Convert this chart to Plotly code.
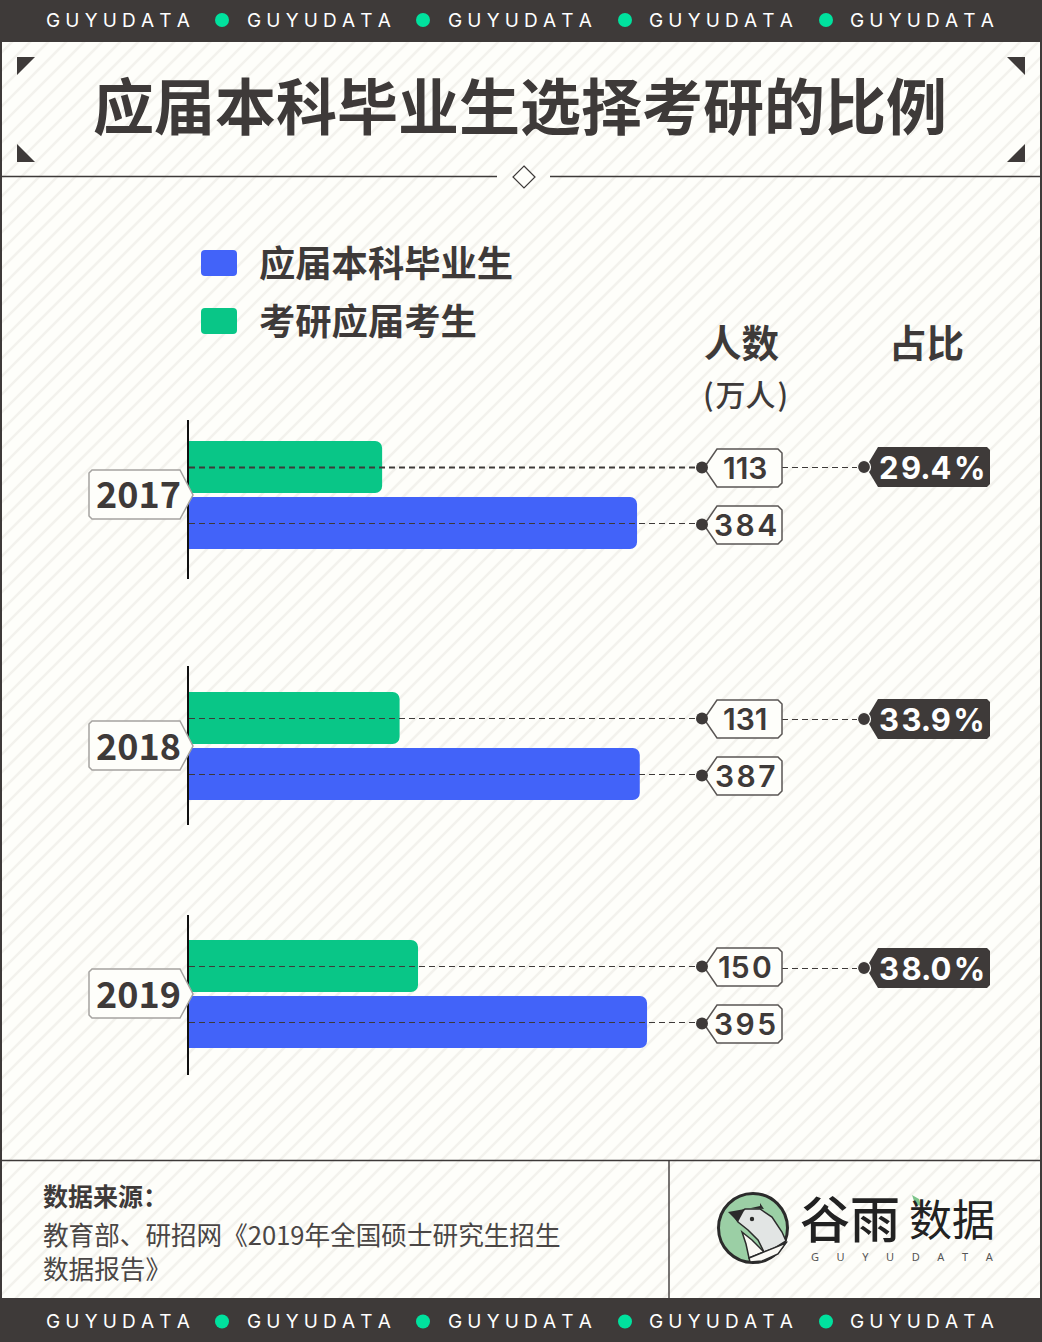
import plotly.graph_objects as go

W, H = 1042, 1342
years = ["2017", "2018", "2019"]
series_names = ["应届本科毕业生", "考研应届考生"]
graduates = [384, 387, 395]
applicants = [113, 131, 150]
shares = ["29.4%", "33.9%", "38.0%"]

DARK = "#3e3a39"
PAPER = "#fefefa"
BLUE = "#4263f9"
GREEN = "#09c687"
ACCENT = "#00e19e"
FONT = "Noto Sans CJK SC"
LATIN = "Inter"
HAIR = "\u200a"


def X(p):
    return p / W


def Y(p):
    return 1 - p / H


def path(points, close=True):
    s = "M " + " L ".join(f"{X(a):.5f},{Y(b):.5f}" for a, b in points)
    return s + (" Z" if close else "")


shapes, notes = [], []


def poly(points, fill=None, line=None, lw=1, layer="above"):
    shapes.append(dict(type="path", xref="paper", yref="paper", path=path(points),
                       fillcolor=fill or "rgba(0,0,0,0)", layer=layer,
                       line=dict(color=line or "rgba(0,0,0,0)", width=lw if line else 0)))


def rect(x0, y0, x1, y1, fill, layer="above"):
    shapes.append(dict(type="rect", xref="paper", yref="paper", x0=X(x0), x1=X(x1), y0=Y(y0), y1=Y(y1),
                       fillcolor=fill, line=dict(width=0), layer=layer))


def seg(x0, y0, x1, y1, color=DARK, lw=1.0, dash="solid", layer="above"):
    shapes.append(dict(type="line", xref="paper", yref="paper", x0=X(x0), x1=X(x1), y0=Y(y0), y1=Y(y1),
                       line=dict(color=color, width=lw, dash=dash), layer=layer))


def circle(cx, cy, r, fill, line=None, lw=0):
    shapes.append(dict(type="circle", xref="paper", yref="paper", x0=X(cx - r), x1=X(cx + r),
                       y0=Y(cy + r), y1=Y(cy - r), fillcolor=fill, layer="above",
                       line=dict(color=line or fill, width=lw)))


def text(t, x, y, size, color=DARK, family=FONT, weight=400, anchor="center"):
    notes.append(dict(text=t, x=X(x), y=Y(y), xref="paper", yref="paper", xanchor=anchor, yanchor="middle",
                      showarrow=False, align="left", borderpad=0,
                      font=dict(size=size, color=color, family=family, weight=weight)))


def swatch(x0, y0, x1, y1, r, fill):
    d = (f"M {X(x0 + r):.5f},{Y(y0):.5f} L {X(x1 - r):.5f},{Y(y0):.5f} Q {X(x1):.5f},{Y(y0):.5f} {X(x1):.5f},{Y(y0 + r):.5f} "
         f"L {X(x1):.5f},{Y(y1 - r):.5f} Q {X(x1):.5f},{Y(y1):.5f} {X(x1 - r):.5f},{Y(y1):.5f} "
         f"L {X(x0 + r):.5f},{Y(y1):.5f} Q {X(x0):.5f},{Y(y1):.5f} {X(x0):.5f},{Y(y1 - r):.5f} "
         f"L {X(x0):.5f},{Y(y0 + r):.5f} Q {X(x0):.5f},{Y(y0):.5f} {X(x0 + r):.5f},{Y(y0):.5f} Z")
    shapes.append(dict(type="path", xref="paper", yref="paper", path=d, fillcolor=fill,
                       line=dict(width=0), layer="above"))


def spaced(s):
    out = s[0]
    for a, b in zip(s, s[1:]):
        out += (b if "1" in (a, b) else HAIR + b)
    return out


def spaced_share(s):
    return s[0] + HAIR + s[1:-1] + HAIR + s[-1]


# hatch background
SPACING = 18
hatch = []
for k in range(0, (W + H) // SPACING + 2):
    c = k * SPACING
    hatch.append(f"M {X(c - H):.5f},{Y(H):.5f} L {X(c):.5f},{Y(0):.5f}")
shapes.append(dict(type="path", xref="paper", yref="paper", path=" ".join(hatch), layer="below",
                   line=dict(color="#f3f2ed", width=2.6)))

# frame bars
rect(0, 0, W, 42, DARK)
rect(0, 1298, W, H, DARK)
rect(0, 42, 2, 1298, DARK)
rect(1040, 42, W, 1298, DARK)
for yy in (20, 1321):
    for cx in (118, 319, 520, 721, 922):
        text("\u2009\u200a".join("GUYUDATA"), cx, yy, 19, "#ffffff", LATIN, 400)
    for cx in (222, 423, 625, 826):
        circle(cx, yy + (0 if yy == 20 else 0.5), 7, ACCENT)

# title block
text("应届本科毕业生选择考研的比例", 519.5, 103, 61, DARK, FONT, 700)
poly([(17, 57), (35, 57), (17, 75)], DARK)
poly([(17, 144), (35, 162), (17, 162)], DARK)
poly([(1007, 57), (1025, 57), (1025, 75)], DARK)
poly([(1025, 144), (1025, 162), (1007, 162)], DARK)
seg(2, 176.5, 497, 176.5, DARK, 1.3)
seg(550, 176.5, 1040, 176.5, DARK, 1.3)
poly([(524, 166), (535, 177), (524, 188), (513, 177)], PAPER, DARK, 1.2)

# legend
for (sy, col, name) in ((263, BLUE, series_names[0]), (321, GREEN, series_names[1])):
    swatch(201, sy - 13, 237, sy + 13, 4, col)
    text(name, 258, sy - 2, 36.3, DARK, FONT, 700, "left")

# column heads
text("人数", 741.5, 341, 37.5, DARK, FONT, 700)
text("(" + HAIR + "万人" + HAIR + ")", 745.5, 393, 30, DARK, FONT, 500)
text("占比", 926.5, 341, 37.5, DARK, FONT, 700)

# rows: geometry in pixels
X_LEFT, X_RIGHT = 189, 1040
AX_TOP = [420, 666, 915]
AX_BOT = [579, 825, 1075]
ROW_BLUE = [523, 774, 1022]
ROW_GREEN = [467, 718, 966]
TAG_GREEN = [468, 719, 967]
TAG_BLUE = [525, 776, 1024]
TAG_PCT = [467, 719, 968]
TAG_YEAR = [495, 746, 994]
STEP = 56

BLUE_START, BLUE_SCALE = -108.9, 0.909
GREEN_START, GREEN_SCALE = -86.1, 0.97
OVERRUN = 30
span = X_RIGHT - X_LEFT

fig = go.Figure()
layout_axes = {}
for i, yr in enumerate(years):
    yname = "y" if i == 0 else f"y{i + 1}"
    key = "yaxis" if i == 0 else f"yaxis{i + 1}"
    fig.add_trace(go.Bar(y=[series_names[0]], x=[graduates[i] - BLUE_START + OVERRUN], base=BLUE_START - OVERRUN,
                         orientation="h", width=52 / STEP, marker=dict(color=BLUE, line=dict(width=0)),
                         name=series_names[0], xaxis="x", yaxis=yname, showlegend=False, hoverinfo="skip"))
    fig.add_trace(go.Bar(y=[series_names[1]], x=[applicants[i] - GREEN_START + OVERRUN], base=GREEN_START - OVERRUN,
                         orientation="h", width=52 / STEP, marker=dict(color=GREEN, line=dict(width=0)),
                         name=series_names[1], xaxis="x2", yaxis=yname, showlegend=False, hoverinfo="skip"))
    lo = -(AX_BOT[i] - ROW_BLUE[i]) / STEP
    hi = (ROW_BLUE[i] - AX_TOP[i]) / STEP
    layout_axes[key] = dict(domain=[Y(AX_BOT[i]), Y(AX_TOP[i])], type="category", categoryorder="array",
                            categoryarray=series_names, range=[lo, hi], showgrid=False, zeroline=False,
                            showticklabels=False, ticks="", showline=True, linecolor="#111111", linewidth=1.5,
                            anchor="x", fixedrange=True)

    # leader lines
    heavy = 1.8 if i == 0 else 1.2
    seg(X_LEFT, ROW_GREEN[i] + 0.5, 702, ROW_GREEN[i] + 0.5, DARK, heavy, "6px,4px")
    seg(X_LEFT, ROW_BLUE[i] + 0.5, 702, ROW_BLUE[i] + 0.5, DARK, 1.2, "6px,4px")
    seg(782, TAG_PCT[i] + 0.5, 864, TAG_PCT[i] + 0.5, DARK, 1.2, "6px,4px")

    # value tags
    for cy, val in ((TAG_GREEN[i], applicants[i]), (TAG_BLUE[i], graduates[i])):
        poly([(704, cy), (717, cy - 19), (778, cy - 19), (782, cy - 15), (782, cy + 15), (778, cy + 19),
              (717, cy + 19)], PAPER, "#5a5654", 1.5)
        circle(702, cy - 0.5, 6, DARK)
        text(spaced(str(val)), 745, cy, 30, DARK, LATIN, 600)

    # share tags
    cy = TAG_PCT[i]
    poly([(866, cy), (878, cy - 20), (987, cy - 20), (990, cy - 17), (990, cy + 17), (987, cy + 20),
          (878, cy + 20)], DARK)
    circle(864, cy, 6.5, DARK, PAPER, 1.2)
    text(spaced_share(shares[i]), 931.5, cy, 31, "#ffffff", LATIN, 700)

    # year tags
    cy = TAG_YEAR[i]
    poly([(92, cy - 25), (180, cy - 25), (193, cy), (180, cy + 24), (92, cy + 24), (89, cy + 21), (89, cy - 22)],
         PAPER, "#a5a3a0", 1.5)
    text(yr, 138, cy - 2.5, 36, DARK, FONT, 700)

# footer
seg(2, 1160.5, 1040, 1160.5, DARK, 1.4)
seg(669, 1160, 669, 1298, DARK, 1.4)
text("数据来源：", 42, 1195, 25, DARK, FONT, 700, "left")
text("教育部、研招网《2019年全国硕士研究生招生", 42, 1233, 25.6, "#4a4645", FONT, 400, "left")
text("数据报告》", 42, 1267, 25.6, "#4a4645", FONT, 400, "left")

# logo
circle(753, 1228, 34.5, "#9bcfa5", "#2b2b2b", 3)
poly([(734, 1216), (745, 1209), (760, 1209), (772, 1217), (782, 1232), (786, 1241), (775, 1248), (764, 1252),
      (758, 1240), (748, 1230), (738, 1222)], "#e2e5e4", "#2b2b2b", 1.5)
poly([(742, 1232), (752, 1240), (764, 1252), (749, 1258), (746, 1244)], "#fbfaf5", "#2b2b2b", 1.5)
poly([(749, 1258), (786, 1243), (778, 1254), (762, 1261), (750, 1262)], "#fbfaf5", "#2b2b2b", 1.5)
poly([(728, 1212), (745, 1209), (738, 1222)], "#2b2b2b")
poly([(751, 1208), (760, 1206), (760, 1203), (764, 1209)], "#2b2b2b")
circle(752, 1219, 2.2, "#2b2b2b")
text("谷雨", 850, 1216, 50, "#222222", FONT, 500)
text("数据", 952, 1217, 43, "#222222", FONT, 400)
poly([(912, 1195), (919, 1199), (921, 1206), (915, 1204)], "#7cc48a")
text("\u2003\u2002\u200a".join("GUYUDATA"), 902, 1256, 11, "#555555", "Noto Sans", 400)

layout_axes["xaxis"] = dict(domain=[X(X_LEFT), X(X_RIGHT)], range=[BLUE_START, BLUE_START + span / BLUE_SCALE],
                            visible=False, anchor="y", fixedrange=True)
layout_axes["xaxis2"] = dict(domain=[X(X_LEFT), X(X_RIGHT)], range=[GREEN_START, GREEN_START + span / GREEN_SCALE],
                             visible=False, anchor="y", fixedrange=True)

fig.update_layout(width=W, height=H, margin=dict(l=0, r=0, t=0, b=0), paper_bgcolor=PAPER,
                  plot_bgcolor="rgba(0,0,0,0)", barmode="overlay", barcornerradius=7,
                  shapes=shapes, annotations=notes, showlegend=False, **layout_axes)
fig.write_html("out.html", config=dict(displayModeBar=False),
               post_script="document.body.style.margin='0';document.body.style.overflow='hidden';")
